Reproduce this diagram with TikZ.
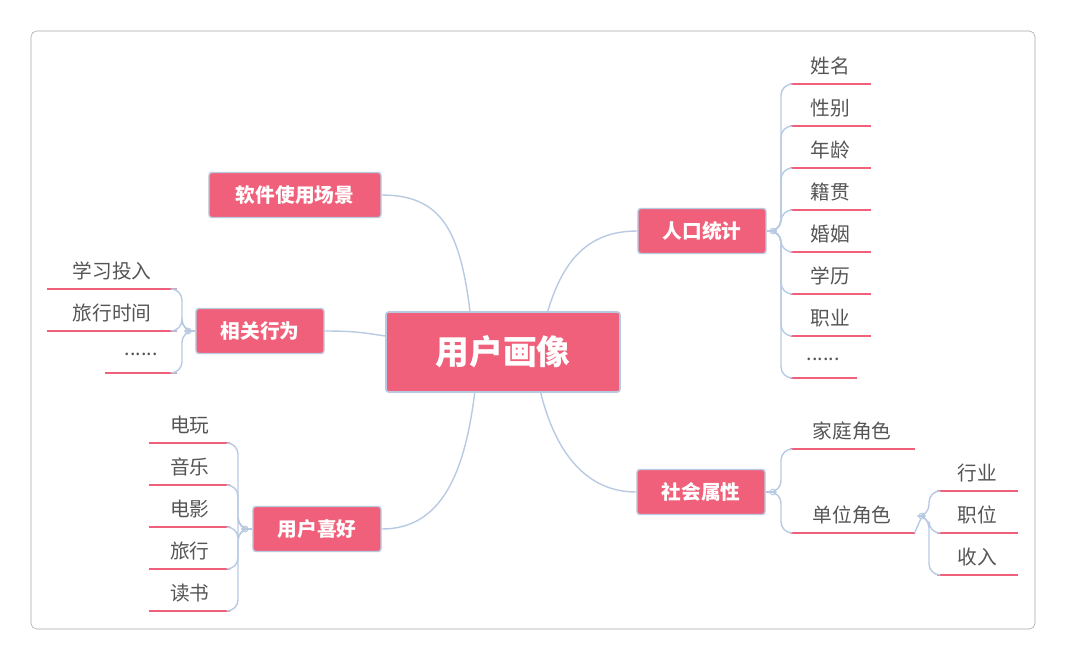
\documentclass[tikz,border=0pt]{standalone}
\usepackage{fontspec}
\setmainfont{Noto Sans CJK SC}
\usetikzlibrary{positioning, calc}
\definecolor{rosered}{RGB}{240,96,122}
\definecolor{paleblue}{RGB}{184,202,226}
\definecolor{leafgray}{RGB}{85,85,85}

\begin{document}
\begin{tikzpicture}[
        x=0.025cm, y=-0.025cm,
        hub/.style={rectangle, rounded corners=2pt, fill=rosered, draw=paleblue, line width=1.2pt, text=white, font=\bfseries\fontsize{24}{28}\selectfont, minimum width=5.85cm, minimum height=2cm},
        branch/.style={rectangle, rounded corners=2pt, fill=rosered, draw=paleblue, line width=1pt, text=white, font=\bfseries\fontsize{14}{16}\selectfont, minimum width=3.2cm, minimum height=1.125cm},
        leaf/.style={inner sep=0pt, minimum height=0.9cm, text=leafgray, font=\fontsize{14}{16}\selectfont,
            append after command={(\tikzlastnode.south west) edge[uline] (\tikzlastnode.south east)}},
        uline/.style={draw=rosered, line width=1.3pt},
        link/.style={draw=paleblue, line width=1pt},
        fold/.style={circle, draw=paleblue, fill=white, inner sep=0pt, minimum size=0.15cm, line width=0.6pt}
    ]
        \useasboundingbox (0,0) rectangle (1066,660);
        \draw[gray!70, rounded corners=4pt] (31,31) rectangle (1035,629);

        \node[hub] (hub) at (503,352) {用户画像};
        \node[branch, minimum width=4.3cm] (scene) at (295,195) {软件使用场景};
        \node[branch] (pop) at (702,231) {人口统计};
        \node[branch] (act) at (260,331) {相关行为};
        \node[branch] (soc) at (701,492) {社会属性};
        \node[branch] (pref) at (317,529) {用户喜好};

        % hub to branches
        \draw[link] ($(hub.north west)!0.36!(hub.north east)$) .. controls +(-10,-80) and +(60,0) .. (scene.east);
        \draw[link] ($(hub.north west)!0.69!(hub.north east)$) .. controls +(15,-50) and +(-50,0) .. (pop.west);
        \draw[link] ($(hub.west)+(0,-16)$) .. controls +(-25,-4) and +(25,0) .. (act.east);
        \draw[link] ($(hub.south west)!0.38!(hub.south east)$) .. controls +(-10,80) and +(60,0) .. (pref.east);
        \draw[link] ($(hub.south west)!0.66!(hub.south east)$) .. controls +(15,60) and +(-50,0) .. (soc.west);

        % people statistics
        \node[fold] (popdot) at (773,231) {};
        \draw[link] (pop.east) -- (popdot);
        \foreach \name/\txt/\y in {p1/姓名/84, p2/性别/126, p3/年龄/168, p4/籍贯/210, p5/婚姻/252, p6/学历/294, p7/职业/336} {
            \node[leaf, minimum width=2cm, anchor=south west] (\name) at (790,\y) {\txt};
            \draw[link, rounded corners=8pt] (popdot) -- +(8,0) |- (\name.south west);
        }
        \node[leaf, minimum width=1.65cm, anchor=south west] (p8) at (790,378) {......};
        \draw[link, rounded corners=8pt] (popdot) -- +(8,0) |- (p8.south west);

        % related behaviour
        \node[fold] (actdot) at (188,331) {};
        \draw[link] (act.west) -- (actdot);
        \node[leaf, minimum width=3.225cm, anchor=south east] (a1) at (177,289) {学习投入};
        \node[leaf, minimum width=3.225cm, anchor=south east] (a2) at (177,331) {旅行时间};
        \node[leaf, minimum width=1.775cm, anchor=south east] (a3) at (177,373) {......};
        \foreach \name in {a1, a2, a3}
            \draw[link, rounded corners=8pt] (actdot) -- +(-6,0) |- (\name.south east);

        % preferences
        \node[fold] (prefdot) at (245,529) {};
        \draw[link] (pref.west) -- (prefdot);
        \foreach \name/\txt/\y in {f1/电玩/443, f2/音乐/485, f3/电影/527, f4/旅行/569, f5/读书/611} {
            \node[leaf, minimum width=2cm, anchor=south east] (\name) at (230,\y) {\txt};
            \draw[link, rounded corners=8pt] (prefdot) -- +(-7,0) |- (\name.south east);
        }

        % social attributes
        \node[fold] (socdot) at (773,492) {};
        \draw[link] (soc.east) -- (socdot);
        \node[leaf, minimum width=3.1cm, anchor=south west] (s1) at (790,449) {家庭角色};
        \node[leaf, minimum width=3.1cm, anchor=south west] (s2) at (790,533) {单位角色};
        \foreach \name in {s1, s2}
            \draw[link, rounded corners=8pt] (socdot) -- +(8,0) |- (\name.south west);
        \node[fold] (unitdot) at (922,516) {};
        \draw[link] (s2.south east) -- (unitdot);
        \foreach \name/\txt/\y in {u1/行业/491, u2/职位/533, u3/收入/575} {
            \node[leaf, minimum width=2cm, anchor=south west] (\name) at (937,\y) {\txt};
            \draw[link, rounded corners=8pt] (unitdot) -- +(7,0) |- (\name.south west);
        }
    \end{tikzpicture}
\end{document}
